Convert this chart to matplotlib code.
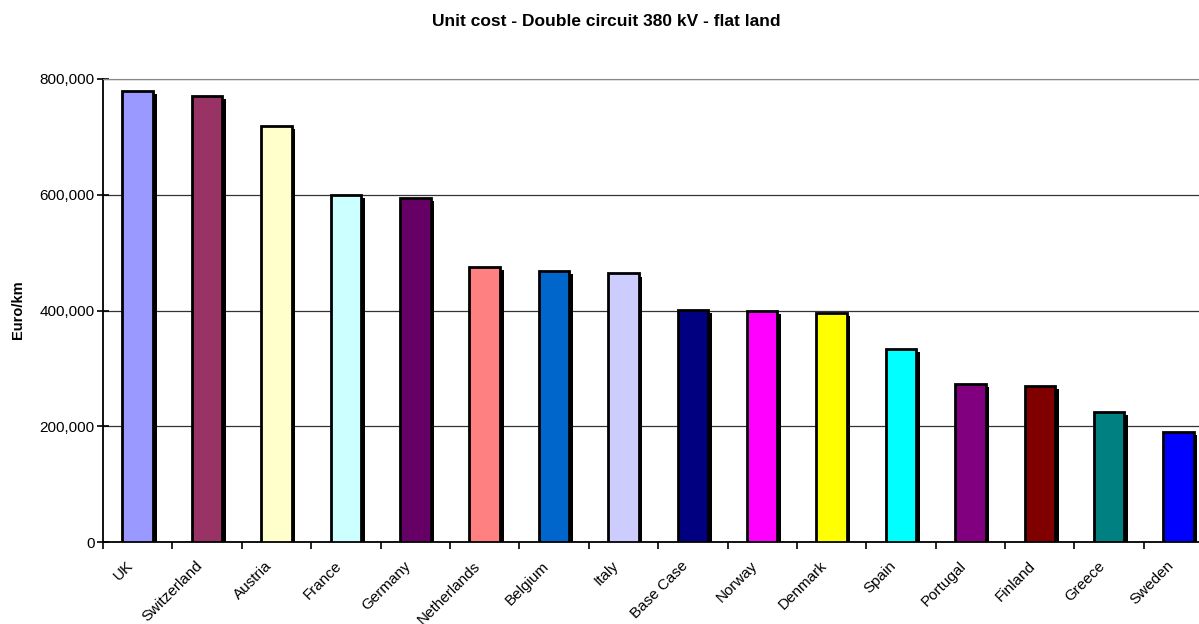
import matplotlib
matplotlib.use("Agg")
import matplotlib.pyplot as plt
import matplotlib.patheffects as pe
from matplotlib.ticker import FuncFormatter
import numpy as np

plt.rcParams["font.family"] = ["Liberation Sans", "DejaVu Sans"]

countries = ["UK", "Switzerland", "Austria", "France", "Germany", "Netherlands",
             "Belgium", "Italy", "Base Case", "Norway", "Denmark", "Spain",
             "Portugal", "Finland", "Greece", "Sweden"]
unit_cost = [779000, 770000, 719000, 599000, 595000, 475000,
             469000, 464000, 401000, 400000, 396000, 333000,
             273000, 270000, 224000, 190000]
bar_colors = ["#9999FF", "#993366", "#FFFFCC", "#CCFFFF", "#660066", "#FF8080",
              "#0066CC", "#CCCCFF", "#000080", "#FF00FF", "#FFFF00", "#00FFFF",
              "#800080", "#800000", "#008080", "#0000FF"]

fig = plt.figure(figsize=(11.99, 6.24), dpi=100)
# plot area runs a little past the right edge of the figure
ax = fig.add_axes([0.0859, 0.1314, 0.926, 0.742])

x = np.arange(len(countries)) + 0.5
bars = ax.bar(x, unit_cost, width=0.44, color=bar_colors,
              edgecolor="black", linewidth=2.0, zorder=3)
for b in bars:
    b.set_path_effects([
        pe.SimplePatchShadow(offset=(2.6, -2.2), shadow_rgbFace="black", alpha=1.0),
        pe.Normal(),
    ])

ax.set_xlim(0, len(countries))
ax.set_ylim(0, 800000)
ax.set_yticks([0, 200000, 400000, 600000, 800000])
ax.yaxis.set_major_formatter(FuncFormatter(lambda v, _: f"{int(v):,}"))
ax.grid(True, axis="y", color="#333333", linewidth=0.9, zorder=0)

# slanted names sit slightly left of the bar centres
ax.set_xticks(x - 0.17)
ax.set_xticklabels(countries, rotation=45, ha="right", rotation_mode="anchor",
                   fontsize=11)
ax.set_xticks(np.arange(len(countries) + 1), minor=True)
ax.tick_params(axis="x", which="major", length=0, pad=12)
ax.tick_params(axis="x", which="minor", length=5, width=1.2, direction="out")
ax.tick_params(axis="y", length=8, width=1.2, direction="inout", labelsize=11, pad=2)

ax.spines["top"].set_color("#888888")
ax.spines["right"].set_visible(False)
ax.spines["left"].set_linewidth(1.3)
ax.spines["bottom"].set_linewidth(1.3)

fig.text(18 / 1199, 1 - 310 / 624, "Euro/km", rotation=90, ha="center", va="center",
         fontsize=10.5, fontweight="bold")
fig.text(606 / 1199, 1 - 22 / 624, "Unit cost - Double circuit 380 kV - flat land",
         ha="center", va="center", fontsize=12.5, fontweight="bold")

fig.savefig("out.png", dpi=100)
